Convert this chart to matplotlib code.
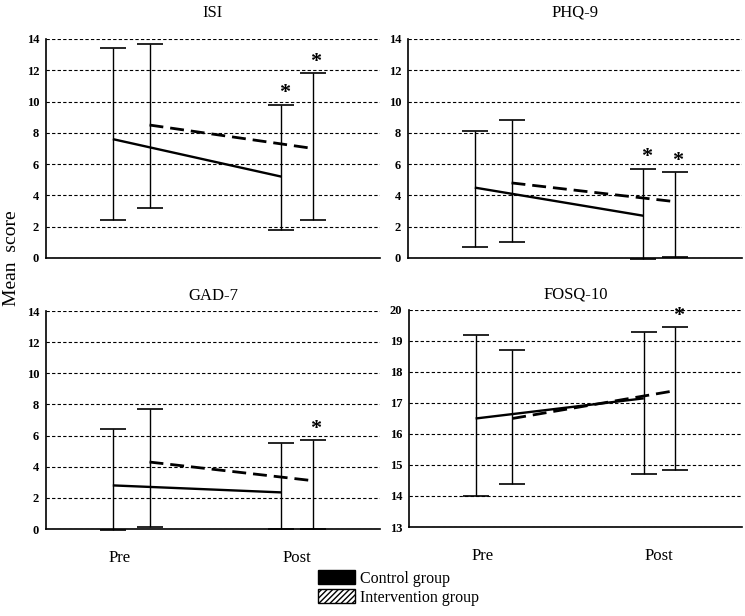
import matplotlib
matplotlib.use('Agg')
import matplotlib.pyplot as plt
from matplotlib.patches import Patch

plt.rcParams['font.family'] = ['Liberation Serif', 'DejaVu Serif']

# Panel titles
titles = ['ISI', 'PHQ-9', 'GAD-7', 'FOSQ-10']
time_labels = ['Pre', 'Post']

# values per panel as [pre, post]
control_mean = [[7.6, 5.2], [4.5, 2.7], [2.8, 2.35], [16.5, 17.15]]
control_low = [[2.4, 1.8], [0.7, -0.05], [-0.05, 0.02], [14.0, 14.7]]
control_high = [[13.4, 9.8], [8.1, 5.7], [6.4, 5.5], [19.2, 19.3]]

interv_mean = [[8.5, 7.0], [4.8, 3.6], [4.3, 3.1], [16.5, 17.4]]
interv_low = [[3.2, 2.4], [1.0, 0.05], [0.1, 0.02], [14.4, 14.85]]
interv_high = [[13.7, 11.8], [8.8, 5.5], [7.7, 5.7], [18.7, 19.45]]

# significance stars at post: [control, intervention]
stars = [[True, True], [True, True], [False, True], [False, True]]

y_limits = [(0, 14), (0, 14), (0, 14), (13, 20)]
y_ticks = [list(range(0, 15, 2))] * 3 + [list(range(13, 21))]

# horizontal placement inside each panel (x axis runs 0..10)
control_x = [2.0, 7.05]
interv_x = [3.1, 8.0]
label_x = [2.2, 7.5]

W, H = 745, 616
fig = plt.figure(figsize=(W / 100, H / 100), dpi=100)

# axes boxes in pixels: left, top, right, bottom
boxes = [(46, 39, 380, 258), (408, 39, 742, 258),
         (46, 311, 380, 529), (409, 310, 742, 527)]
title_pads = [16, 16, 8, 8]

for i, (l, t, r, b) in enumerate(boxes):
    ax = fig.add_axes([l / W, 1 - b / H, (r - l) / W, (b - t) / H])
    ax.set_xlim(0, 10)
    ax.set_ylim(*y_limits[i])
    ax.set_yticks(y_ticks[i])
    ax.set_yticklabels([str(v) for v in y_ticks[i]], fontsize=9, fontweight='bold')
    ax.tick_params(axis='y', length=0, pad=5)
    ax.grid(axis='y', color='black', linestyle=(0, (3, 2)), linewidth=0.8)
    ax.set_axisbelow(True)
    for s in ['top', 'right']:
        ax.spines[s].set_visible(False)
    for s in ['left', 'bottom']:
        ax.spines[s].set_linewidth(1.2)

    if i >= 2:
        ax.set_xticks(label_x)
        ax.set_xticklabels(time_labels, fontsize=12)
        ax.tick_params(axis='x', length=0, pad=15)
    else:
        ax.set_xticks([])

    cm, cl, ch = control_mean[i], control_low[i], control_high[i]
    im, il, ih = interv_mean[i], interv_low[i], interv_high[i]

    ax.errorbar(control_x, cm,
                yerr=[[m - lo for m, lo in zip(cm, cl)], [hi - m for m, hi in zip(cm, ch)]],
                fmt='none', ecolor='black', elinewidth=1.0, capsize=9.5, capthick=1.2,
                clip_on=False)
    ax.errorbar(interv_x, im,
                yerr=[[m - lo for m, lo in zip(im, il)], [hi - m for m, hi in zip(im, ih)]],
                fmt='none', ecolor='black', elinewidth=1.0, capsize=9.5, capthick=1.2,
                clip_on=False)

    ax.plot(control_x, cm, color='black', linewidth=1.7, solid_capstyle='butt')
    ax.plot(interv_x, im, color='black', linewidth=2.0, linestyle=(0, (5, 2.5)))

    # asterisks above the post bars
    if stars[i][0]:
        ax.annotate('*', (control_x[1], ch[1]), xytext=(2, 1), textcoords='offset points',
                    ha='center', va='bottom', fontsize=16, fontweight='bold')
    if stars[i][1]:
        ax.annotate('*', (interv_x[1], ih[1]), xytext=(2, 1), textcoords='offset points',
                    ha='center', va='bottom', fontsize=16, fontweight='bold')

    ax.set_title(titles[i], fontsize=12, pad=title_pads[i])

fig.text(12 / W, 1 - 258 / H, 'Mean  score', rotation=90, ha='center', va='center',
         fontsize=14)

handles = [Patch(facecolor='black', edgecolor='black', label='Control group'),
           Patch(facecolor='white', edgecolor='black', hatch='//////', label='Intervention group')]
fig.legend(handles=handles, loc='upper left', bbox_to_anchor=(318 / W, 1 - 570 / H),
           frameon=False, fontsize=11.5, handlelength=2.3, handleheight=1.0,
           handletextpad=0.3, labelspacing=0.15, borderpad=0, borderaxespad=0)

fig.savefig('out.png', dpi=100)
